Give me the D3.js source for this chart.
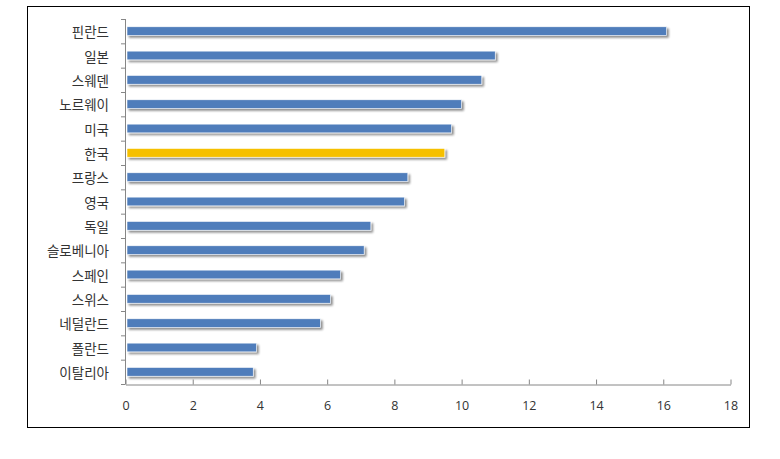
<!DOCTYPE html>
<html><head><meta charset="utf-8">
<script src="https://cdn.jsdelivr.net/npm/d3@7"></script>
<style>body{margin:0;background:#fff;}</style>
</head><body>
<svg id="c" width="780" height="459"></svg>
<script>
const categories = ["핀란드","일본","스웨덴","노르웨이","미국","한국","프랑스","영국","독일","슬로베니아","스페인","스위스","네덜란드","폴란드","이탈리아"];
const values = [16.1, 11.0, 10.6, 10.0, 9.7, 9.5, 8.4, 8.3, 7.3, 7.1, 6.4, 6.1, 5.8, 3.9, 3.8];
const highlight = "한국";
const xTicks = [0,2,4,6,8,10,12,14,16,18];

const svg = d3.select("#c");
svg.append("rect").attr("x",27.5).attr("y",6.5).attr("width",722).attr("height",421)
  .attr("fill","#fff").attr("stroke","#000").attr("stroke-width",1);

const x = d3.scaleLinear().domain([0,18]).range([125.5,730.5]);
const y = d3.scaleBand().domain(categories).range([19,384]).paddingInner(0.64).paddingOuter(0.32);

const defs = svg.append("defs");
const f = defs.append("filter").attr("id","sh").attr("x","-5%").attr("y","-50%").attr("width","110%").attr("height","250%");
f.append("feGaussianBlur").attr("in","SourceAlpha").attr("stdDeviation",0.8).attr("result","b");
f.append("feOffset").attr("in","b").attr("dx",1.5).attr("dy",2).attr("result","o");
f.append("feComponentTransfer").attr("in","o").attr("result","oo").append("feFuncA").attr("type","linear").attr("slope",0.45);
const m = f.append("feMerge"); m.append("feMergeNode").attr("in","oo"); m.append("feMergeNode").attr("in","SourceGraphic");

svg.append("g").selectAll("rect").data(categories).join("rect")
  .attr("x", x(0)+1.5)
  .attr("y", d=>y(d))
  .attr("width", (d,i)=>x(values[i])-x(0)-1.5)
  .attr("height", y.bandwidth())
  .attr("fill", d=> d===highlight ? "#F6C000" : "#4F7DBB")
  .attr("stroke","#fff").attr("stroke-width",0.6)
  .attr("filter","url(#sh)");

// y axis: line with tick marks at band boundaries on left side
const yAxisG = svg.append("g");
yAxisG.append("line").attr("x1",125.5).attr("x2",125.5).attr("y1",19).attr("y2",384).attr("stroke","#868686");
const step = (384-19)/categories.length;
d3.range(categories.length+1).forEach(i=>{
  yAxisG.append("line").attr("x1",121).attr("x2",125.5).attr("y1",19+i*step+0.5).attr("y2",19+i*step+0.5).attr("stroke","#868686");
});
svg.append("g").selectAll("text").data(categories).join("text")
  .attr("x",109).attr("y",d=>y(d)+y.bandwidth()/2)
  .attr("text-anchor","end").attr("dominant-baseline","central")
  .attr("font-family","'Noto Sans CJK KR', sans-serif").attr("font-size",13.5).attr("fill","#333")
  .text(d=>d);

// x axis
const xa = svg.append("g").attr("transform","translate(0,384.5)")
  .call(d3.axisBottom(x).tickValues(xTicks).tickSize(5).tickSizeOuter(0).tickPadding(12));
xa.select(".domain").attr("stroke","#868686");
xa.selectAll(".tick line").attr("stroke","#868686").attr("y1",-5).attr("y2",0);
xa.selectAll(".tick text").attr("font-family","'Open Sans', sans-serif").attr("font-size",12.5).attr("fill","#333");
</script>
</body></html>
